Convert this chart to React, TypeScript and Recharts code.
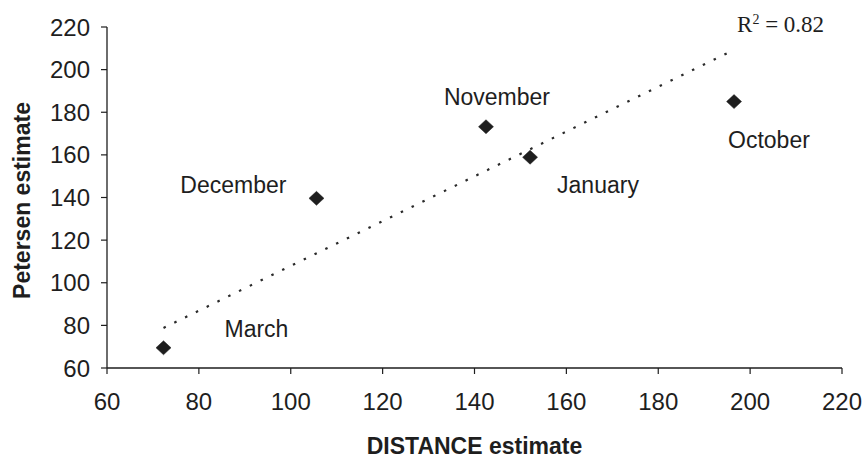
import React from 'react';
import { ScatterChart, Scatter, XAxis, YAxis } from 'recharts';

// ---- data ----
const months = ['October', 'November', 'December', 'January', 'March'];
const distanceEstimate = [196.5, 142.5, 105.6, 152.1, 72.3];
const petersenEstimate = [185, 173.2, 139.6, 158.9, 69.5];

// dotted trend line end points
const trendDistance = [72.3, 196.5];
const trendPetersen = [78.8, 209.3];
const rSquared = '0.82';

const xTicks = [60, 80, 100, 120, 140, 160, 180, 200, 220];
const yTicks = [60, 80, 100, 120, 140, 160, 180, 200, 220];

// ---- styling / layout ----
const SANS = "'Liberation Sans', Arial, Helvetica, sans-serif";
const SERIF = "'Liberation Serif', 'Times New Roman', serif";
const INK = '#1e1e1e';

const labelLayout: Record<string, { dx: number; dy: number; anchor: string }> = {
  October: { dx: -6, dy: 46, anchor: 'start' },
  November: { dx: 11, dy: -22, anchor: 'middle' },
  December: { dx: -30, dy: -5, anchor: 'end' },
  January: { dx: 27, dy: 36, anchor: 'start' },
  March: { dx: 61, dy: -11, anchor: 'start' },
};

const points = months.map((m, i) => ({ name: m, x: distanceEstimate[i], y: petersenEstimate[i] }));
const trend = trendDistance.map((x, i) => ({ x, y: trendPetersen[i], note: i === trendDistance.length - 1 }));

const DiamondWithLabel = (props: any) => {
  const { cx, cy, payload } = props;
  if (cx == null || cy == null) return <g />;
  const h = 7.5;
  const v = 7;
  const lay = labelLayout[payload.name] || { dx: 0, dy: 0, anchor: 'start' };
  return (
    <g>
      <polygon
        points={`${cx},${cy - v} ${cx + h},${cy} ${cx},${cy + v} ${cx - h},${cy}`}
        fill={INK}
        stroke={INK}
        strokeWidth={0.5}
      />
      <text
        x={cx + lay.dx}
        y={cy + lay.dy}
        textAnchor={lay.anchor as any}
        fontFamily={SANS}
        fontSize={23}
        fill={INK}
      >
        {payload.name}
      </text>
    </g>
  );
};

const TrendEnd = (props: any) => {
  const { cx, cy, payload } = props;
  if (!payload || !payload.note || cx == null) return <g />;
  return (
    <text x={cx + 3} y={cy - 18} fontFamily={SERIF} fontSize={23} fill={INK}>
      R
      <tspan fontSize={14} dy={-8}>2</tspan>
      <tspan dy={8}>{` = ${rSquared}`}</tspan>
    </text>
  );
};

const XTitle = (props: any) => {
  const vb = props.viewBox || {};
  return (
    <text
      x={vb.x + vb.width / 2}
      y={vb.y + 86}
      textAnchor="middle"
      fontFamily={SANS}
      fontWeight="bold"
      fontSize={23}
      fill={INK}
    >
      DISTANCE estimate
    </text>
  );
};

const YTitle = (props: any) => {
  const vb = props.viewBox || {};
  const x = 30;
  const y = vb.y + vb.height / 2 + 3;
  return (
    <text
      x={x}
      y={y}
      transform={`rotate(-90, ${x}, ${y})`}
      textAnchor="middle"
      fontFamily={SANS}
      fontWeight="bold"
      fontSize={23}
      fill={INK}
    >
      Petersen estimate
    </text>
  );
};

export default function App() {
  return (
    <div style={{ position: 'absolute', left: 0, top: 0, width: 864, height: 460, background: '#fff' }}>
      <ScatterChart width={864} height={460} margin={{ top: 27, right: 22, bottom: 0, left: 0 }}>
        <XAxis
          type="number"
          dataKey="x"
          domain={[60, 220]}
          ticks={xTicks}
          interval={0}
          height={92}
          tickSize={6}
          tickMargin={19}
          axisLine={{ stroke: INK, strokeWidth: 1.3 }}
          tickLine={{ stroke: INK, strokeWidth: 1.2 }}
          tick={{ fontSize: 24, fill: INK, fontFamily: SANS }}
          label={<XTitle />}
        />
        <YAxis
          type="number"
          dataKey="y"
          domain={[60, 220]}
          ticks={yTicks}
          interval={0}
          width={107}
          tickSize={6}
          tickMargin={11}
          axisLine={{ stroke: INK, strokeWidth: 1.3 }}
          tickLine={{ stroke: INK, strokeWidth: 1.2 }}
          tick={{ fontSize: 24, fill: INK, fontFamily: SANS }}
          label={<YTitle />}
        />
        <Scatter
          data={trend}
          isAnimationActive={false}
          line={{ stroke: '#2a2a2a', strokeWidth: 2.2, strokeDasharray: '2.5 9.5' }}
          shape={<TrendEnd />}
        />
        <Scatter data={points} isAnimationActive={false} shape={<DiamondWithLabel />} />
      </ScatterChart>
    </div>
  );
}
